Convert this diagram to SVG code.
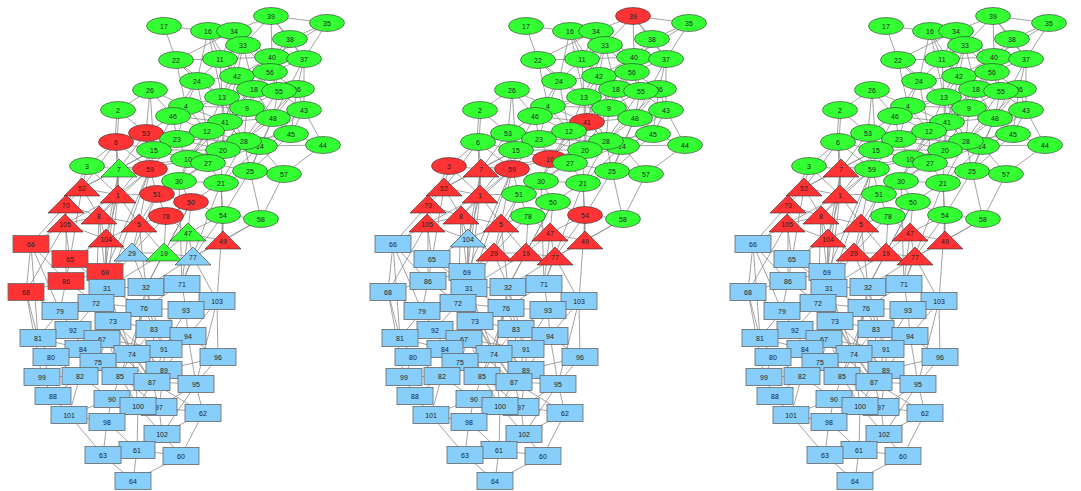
<svg xmlns="http://www.w3.org/2000/svg" xmlns:xlink="http://www.w3.org/1999/xlink" width="1081" height="491" viewBox="0 0 1081 491">
<style>
.ed path{stroke:#8c8c8c;stroke-width:.8;fill:none}
.g{fill:#33ff33}.r{fill:#ff3333}.b{fill:#87cefa}
#E{stroke:#333;stroke-width:.6}
#T{stroke:#333;stroke-width:.6}
#R{stroke:#666;stroke-width:.8}
text{font-family:"Liberation Sans",Arial,sans-serif;font-size:7px;fill:#222;text-anchor:middle}
</style>
<defs>
<ellipse id="E" cx="0" cy="0" rx="17.5" ry="8.5"/>
<polygon id="T" points="0,-10 18,8 -18,8"/>
<rect id="R" x="-18" y="-8.5" width="36" height="17"/>
<g id="edges" class="ed">
<path d="M164 26L176 60"/><path d="M164 26L208 31"/><path d="M271 16L327 23"/><path d="M271 16L234 31"/><path d="M271 16L243 45"/><path d="M271 16L290 39"/><path d="M271 16L272 57"/><path d="M271 16L304 59"/><path d="M327 23L290 39"/><path d="M327 23L304 59"/><path d="M327 23L272 57"/>
<path d="M208 31L220 59"/><path d="M208 31L243 45"/><path d="M208 31L197 81"/><path d="M208 31L237 76"/><path d="M208 31L222 97"/><path d="M234 31L243 45"/><path d="M234 31L220 59"/><path d="M234 31L272 57"/>
<path d="M243 45L220 59"/><path d="M243 45L272 57"/><path d="M243 45L237 76"/><path d="M243 45L270 72"/><path d="M243 45L254 89"/><path d="M243 45L222 97"/><path d="M290 39L272 57"/><path d="M290 39L304 59"/><path d="M290 39L270 72"/>
<path d="M176 60L197 81"/><path d="M176 60L220 59"/><path d="M176 60L222 97"/><path d="M176 60L186 106"/><path d="M176 60L234 31"/>
<path d="M220 59L197 81"/><path d="M220 59L237 76"/><path d="M220 59L222 97"/><path d="M220 59L254 89"/><path d="M220 59L272 57"/>
<path d="M272 57L270 72"/><path d="M272 57L304 59"/><path d="M272 57L237 76"/><path d="M272 57L278 91"/><path d="M272 57L254 89"/>
<path d="M304 59L270 72"/><path d="M304 59L297 89"/><path d="M304 59L304 110"/><path d="M304 59L273 118"/>
<path d="M197 81L222 97"/><path d="M197 81L186 106"/><path d="M197 81L237 76"/><path d="M197 81L173 116"/><path d="M197 81L207 131"/>
<path d="M237 76L270 72"/><path d="M237 76L254 89"/><path d="M237 76L222 97"/><path d="M237 76L247 108"/><path d="M237 76L278 91"/>
<path d="M270 72L254 89"/><path d="M270 72L278 91"/><path d="M270 72L297 89"/><path d="M270 72L247 108"/>
<path d="M254 89L278 91"/><path d="M254 89L222 97"/><path d="M254 89L247 108"/><path d="M254 89L273 118"/><path d="M254 89L225 122"/>
<path d="M278 91L297 89"/><path d="M278 91L247 108"/><path d="M278 91L273 118"/><path d="M278 91L304 110"/>
<path d="M297 89L304 110"/><path d="M297 89L273 118"/><path d="M297 89L291 134"/>
<path d="M150 90L118 110"/><path d="M150 90L186 106"/><path d="M150 90L173 116"/><path d="M150 90L146 133"/><path d="M150 90L154 150"/>
<path d="M117 110L115 142"/><path d="M119 110L117 142"/><path d="M118 110L146 133"/>
<path d="M186 106L173 116"/><path d="M186 106L222 97"/><path d="M186 106L207 131"/><path d="M186 106L225 122"/><path d="M186 106L177 139"/>
<path d="M222 97L247 108"/><path d="M222 97L225 122"/><path d="M222 97L207 131"/><path d="M222 97L173 116"/><path d="M222 97L244 141"/>
<path d="M247 108L273 118"/><path d="M247 108L225 122"/><path d="M247 108L244 141"/><path d="M247 108L207 131"/><path d="M247 108L223 150"/>
<path d="M304 110L273 118"/><path d="M304 110L291 134"/><path d="M304 110L323 145"/>
<path d="M273 118L291 134"/><path d="M273 118L244 141"/><path d="M273 118L260 146"/><path d="M273 118L225 122"/>
<path d="M173 116L207 131"/><path d="M173 116L177 139"/><path d="M173 116L146 133"/><path d="M173 116L154 150"/>
<path d="M225 122L207 131"/><path d="M225 122L244 141"/><path d="M225 122L223 150"/><path d="M225 122L177 139"/>
<path d="M207 131L177 139"/><path d="M207 131L223 150"/><path d="M207 131L244 141"/><path d="M207 131L188 159"/><path d="M207 131L208 163"/>
<path d="M291 134L323 145"/><path d="M291 134L260 146"/><path d="M291 134L244 141"/><path d="M323 145L284 174"/><path d="M323 145L260 146"/>
<path d="M146 133L116 142"/><path d="M146 133L154 150"/><path d="M146 133L177 139"/><path d="M146 133L119 169"/><path d="M146 133L150 169"/>
<path d="M177 139L154 150"/><path d="M177 139L188 159"/><path d="M177 139L223 150"/>
<path d="M244 141L260 146"/><path d="M244 141L223 150"/><path d="M244 141L208 163"/><path d="M244 141L250 171"/>
<path d="M260 146L250 171"/><path d="M260 146L223 150"/><path d="M260 146L284 174"/>
<path d="M116 142L154 150"/><path d="M116 142L87 166"/><path d="M116 142L119 169"/><path d="M116 142L118 195"/><path d="M116 142L82 188"/><path d="M116 142L150 169"/>
<path d="M154 150L188 159"/><path d="M154 150L150 169"/><path d="M154 150L119 169"/>
<path d="M223 150L188 159"/><path d="M223 150L208 163"/><path d="M223 150L221 183"/><path d="M223 150L179 181"/>
<path d="M188 159L208 163"/><path d="M188 159L179 181"/><path d="M188 159L150 169"/>
<path d="M208 163L221 183"/><path d="M208 163L250 171"/><path d="M208 163L179 181"/>
<path d="M87 166L119 169"/><path d="M87 166L82 188"/><path d="M87 166L66 205"/>
<path d="M150 169L119 169"/><path d="M150 169L118 195"/><path d="M150 169L157 194"/><path d="M150 169L179 181"/>
<path d="M250 171L284 174"/><path d="M250 171L221 183"/><path d="M250 171L261 219"/><path d="M250 171L223 215"/><path d="M284 174L261 219"/>
<path d="M179 181L221 183"/><path d="M179 181L157 194"/><path d="M179 181L191 202"/>
<path d="M221 183L223 215"/><path d="M221 183L191 202"/><path d="M221 183L223 241"/>
<path d="M157 194L191 202"/><path d="M157 194L166 216"/><path d="M157 194L118 195"/><path d="M157 194L139 224"/>
<path d="M191 202L166 216"/><path d="M191 202L223 215"/><path d="M191 202L188 233"/><path d="M191 202L164 253"/>
<path d="M166 216L139 224"/><path d="M166 216L188 233"/><path d="M166 216L164 253"/>
<path d="M223 215L261 219"/><path d="M223 215L223 241"/><path d="M223 215L188 233"/><path d="M223 215L193 257"/>
<path d="M261 219L223 241"/><path d="M261 219L193 257"/>
<path d="M119 169L118 195"/><path d="M119 169L82 188"/><path d="M82 188L66 205"/><path d="M82 188L118 195"/><path d="M82 188L99 216"/>
<path d="M118 195L99 216"/><path d="M118 195L139 224"/><path d="M66 205L65 224"/><path d="M66 205L99 216"/><path d="M66 205L31 244"/>
<path d="M99 216L65 224"/><path d="M99 216L106 239"/><path d="M99 216L139 224"/><path d="M65 224L31 244"/><path d="M65 224L70 259"/><path d="M65 224L106 239"/>
<path d="M139 224L106 239"/><path d="M139 224L132 253"/><path d="M139 224L164 253"/><path d="M106 239L70 259"/><path d="M106 239L105 272"/><path d="M106 239L132 253"/>
<path d="M188 233L164 253"/><path d="M188 233L193 257"/><path d="M188 233L223 241"/><path d="M223 241L193 257"/>
<path d="M132 253L164 253"/><path d="M132 253L105 272"/><path d="M132 253L107 288"/><path d="M132 253L146 287"/><path d="M164 253L193 257"/><path d="M164 253L146 287"/>
<path d="M193 257L182 284"/><path d="M193 257L217 301"/><path d="M193 257L146 287"/>
<path d="M31 244L26 292"/><path d="M31 244L66 281"/><path d="M31 244L70 259"/><path d="M70 259L66 281"/><path d="M70 259L105 272"/><path d="M70 259L107 288"/>
<path d="M105 272L107 288"/><path d="M105 272L66 281"/><path d="M66 281L26 292"/><path d="M66 281L96 303"/>
<path d="M26 292L60 311"/><path d="M26 292L38 338"/><path d="M26 292L42 377"/>
<path d="M107 288L146 287"/><path d="M107 288L96 303"/><path d="M107 288L144 308"/><path d="M107 288L113 321"/>
<path d="M146 287L182 284"/><path d="M146 287L144 308"/><path d="M146 287L154 329"/>
<path d="M182 284L217 301"/><path d="M182 284L186 310"/><path d="M182 284L144 308"/>
<path d="M217 301L186 310"/><path d="M217 301L188 336"/><path d="M217 301L218 357"/><path d="M217 301L196 384"/>
<path d="M96 303L60 311"/><path d="M96 303L113 321"/><path d="M96 303L144 308"/><path d="M96 303L73 330"/>
<path d="M144 308L113 321"/><path d="M144 308L154 329"/><path d="M144 308L186 310"/>
<path d="M186 310L154 329"/><path d="M186 310L188 336"/><path d="M186 310L164 349"/>
<path d="M60 311L73 330"/><path d="M60 311L38 338"/>
<path d="M113 321L102 339"/><path d="M113 321L154 329"/><path d="M113 321L132 354"/>
<path d="M73 330L38 338"/><path d="M73 330L102 339"/><path d="M73 330L83 349"/>
<path d="M154 329L164 349"/><path d="M154 329L132 354"/><path d="M38 338L51 357"/><path d="M38 338L83 349"/>
<path d="M102 339L83 349"/><path d="M102 339L98 362"/><path d="M102 339L132 354"/>
<path d="M188 336L164 349"/><path d="M188 336L218 357"/><path d="M188 336L196 384"/><path d="M188 336L164 370"/>
<path d="M83 349L51 357"/><path d="M83 349L98 362"/><path d="M83 349L80 376"/>
<path d="M164 349L132 354"/><path d="M164 349L164 370"/><path d="M164 349L152 382"/>
<path d="M132 354L98 362"/><path d="M132 354L120 376"/><path d="M132 354L152 382"/>
<path d="M218 357L196 384"/><path d="M218 357L164 370"/><path d="M51 357L42 377"/><path d="M51 357L80 376"/>
<path d="M98 362L80 376"/><path d="M98 362L120 376"/><path d="M42 377L53 396"/><path d="M42 377L80 376"/>
<path d="M80 376L53 396"/><path d="M80 376L112 399"/><path d="M80 376L69 415"/>
<path d="M120 376L152 382"/><path d="M120 376L112 399"/><path d="M120 376L138 406"/>
<path d="M164 370L152 382"/><path d="M164 370L196 384"/><path d="M164 370L159 407"/>
<path d="M152 382L196 384"/><path d="M152 382L138 406"/><path d="M152 382L159 407"/>
<path d="M196 384L203 413"/><path d="M196 384L162 434"/><path d="M53 396L69 415"/>
<path d="M112 399L138 406"/><path d="M112 399L107 422"/><path d="M112 399L69 415"/>
<path d="M138 406L159 407"/><path d="M138 406L107 422"/><path d="M138 406L137 450"/><path d="M138 406L162 434"/>
<path d="M159 407L162 434"/><path d="M159 407L203 413"/><path d="M69 415L107 422"/><path d="M69 415L103 455"/>
<path d="M107 422L103 455"/><path d="M107 422L137 450"/><path d="M203 413L162 434"/><path d="M203 413L181 456"/>
<path d="M162 434L181 456"/><path d="M162 434L137 450"/><path d="M137 450L103 455"/><path d="M137 450L133 481"/><path d="M137 450L181 456"/>
<path d="M103 455L133 481"/><path d="M181 456L133 481"/>
<path d="M150 169L107 288"/><path d="M118 195L107 288"/><path d="M119 169L105 272"/><path d="M99 216L96 303"/><path d="M139 224L146 287"/><path d="M157 194L132 253"/>
<path d="M179 181L182 284"/><path d="M221 183L182 284"/><path d="M223 215L217 301"/><path d="M188 233L182 284"/><path d="M166 216L132 253"/><path d="M191 202L146 287"/><path d="M164 253L107 288"/>
<path d="M107 288L132 354"/><path d="M146 287L132 354"/><path d="M96 303L120 376"/><path d="M113 321L152 382"/><path d="M102 339L164 349"/><path d="M144 308L120 376"/>
<path d="M154 329L152 382"/><path d="M113 321L164 370"/><path d="M102 339L152 382"/><path d="M132 354L138 406"/><path d="M120 376L159 407"/><path d="M112 399L152 382"/>
<path d="M98 362L152 382"/><path d="M83 349L120 376"/><path d="M113 321L98 362"/><path d="M144 308L132 354"/><path d="M146 287L164 349"/>
<path d="M116 142L207 131"/><path d="M146 133L207 131"/><path d="M150 169L177 139"/><path d="M118 195L154 150"/><path d="M119 169L188 159"/><path d="M82 188L154 150"/>
<path d="M99 216L150 169"/><path d="M65 224L118 195"/><path d="M106 239L118 195"/><path d="M139 224L150 169"/><path d="M106 239L119 169"/><path d="M87 166L118 195"/>
<path d="M173 116L225 122"/><path d="M186 106L247 108"/><path d="M177 139L244 141"/><path d="M154 150L207 131"/><path d="M188 159L244 141"/><path d="M208 163L260 146"/>
<path d="M222 97L223 150"/><path d="M225 122L208 163"/><path d="M154 150L223 150"/><path d="M188 159L225 122"/><path d="M179 181L207 131"/><path d="M221 183L244 141"/>
<path d="M221 183L260 146"/><path d="M250 171L273 118"/><path d="M291 134L250 171"/><path d="M222 97L273 118"/><path d="M237 76L225 122"/><path d="M254 89L207 131"/>
<path d="M278 91L244 141"/><path d="M297 89L244 141"/><path d="M304 110L260 146"/>
<path d="M31 244L60 311"/><path d="M66 281L60 311"/><path d="M31 244L38 338"/><path d="M150 169L105 272"/>
<path d="M82 188L70 259"/><path d="M66 205L66 281"/><path d="M65 224L26 292"/><path d="M99 216L105 272"/><path d="M106 239L107 288"/>
<path d="M152 382L203 413"/><path d="M159 407L196 384"/>
</g>
</defs>
<rect width="1081" height="491" fill="#fff"/>

<g id="panel1">
<g id="connectors1"><use href="#edges"/></g>
<g id="a17" transform="translate(164 26)"><use href="#E" class="g"/><text y="2.5">17</text></g>
<g id="a39" transform="translate(271 16)"><use href="#E" class="g"/><text y="2.5">39</text></g>
<g id="a35" transform="translate(327 23)"><use href="#E" class="g"/><text y="2.5">35</text></g>
<g id="a16" transform="translate(208 31)"><use href="#E" class="g"/><text y="2.5">16</text></g>
<g id="a34" transform="translate(234 31)"><use href="#E" class="g"/><text y="2.5">34</text></g>
<g id="a33" transform="translate(243 45)"><use href="#E" class="g"/><text y="2.5">33</text></g>
<g id="a38" transform="translate(290 39)"><use href="#E" class="g"/><text y="2.5">38</text></g>
<g id="a22" transform="translate(176 60)"><use href="#E" class="g"/><text y="2.5">22</text></g>
<g id="a11" transform="translate(220 59)"><use href="#E" class="g"/><text y="2.5">11</text></g>
<g id="a40" transform="translate(272 57)"><use href="#E" class="g"/><text y="2.5">40</text></g>
<g id="a37" transform="translate(304 59)"><use href="#E" class="g"/><text y="2.5">37</text></g>
<g id="a24" transform="translate(197 81)"><use href="#E" class="g"/><text y="2.5">24</text></g>
<g id="a42" transform="translate(237 76)"><use href="#E" class="g"/><text y="2.5">42</text></g>
<g id="a56" transform="translate(270 72)"><use href="#E" class="g"/><text y="2.5">56</text></g>
<g id="a18" transform="translate(254 89)"><use href="#E" class="g"/><text y="2.5">18</text></g>
<g id="a36" transform="translate(297 89)"><use href="#E" class="g"/><text y="2.5">36</text></g>
<g id="a55" transform="translate(279 91)"><use href="#E" class="g"/><text y="2.5">55</text></g>
<g id="a26" transform="translate(150 90)"><use href="#E" class="g"/><text y="2.5">26</text></g>
<g id="a13" transform="translate(222 97)"><use href="#E" class="g"/><text y="2.5">13</text></g>
<g id="a4" transform="translate(186 106)"><use href="#E" class="g"/><text y="2.5">4</text></g>
<g id="a9" transform="translate(247 108)"><use href="#E" class="g"/><text y="2.5">9</text></g>
<g id="a43" transform="translate(304 110)"><use href="#E" class="g"/><text y="2.5">43</text></g>
<g id="a2" transform="translate(118 110)"><use href="#E" class="g"/><text y="2.5">2</text></g>
<g id="a46" transform="translate(173 116)"><use href="#E" class="g"/><text y="2.5">46</text></g>
<g id="a48" transform="translate(273 118)"><use href="#E" class="g"/><text y="2.5">48</text></g>
<g id="a41" transform="translate(225 122)"><use href="#E" class="g"/><text y="2.5">41</text></g>
<g id="a12" transform="translate(207 131)"><use href="#E" class="g"/><text y="2.5">12</text></g>
<g id="a45" transform="translate(291 134)"><use href="#E" class="g"/><text y="2.5">45</text></g>
<g id="a53" transform="translate(146 133)"><use href="#E" class="r"/><text y="2.5">53</text></g>
<g id="a23" transform="translate(177 139)"><use href="#E" class="g"/><text y="2.5">23</text></g>
<g id="a14" transform="translate(260 146)"><use href="#E" class="g"/><text y="2.5">14</text></g>
<g id="a28" transform="translate(244 141)"><use href="#E" class="g"/><text y="2.5">28</text></g>
<g id="a44" transform="translate(323 145)"><use href="#E" class="g"/><text y="2.5">44</text></g>
<g id="a6" transform="translate(116 142)"><use href="#E" class="r"/><text y="2.5">6</text></g>
<g id="a15" transform="translate(154 150)"><use href="#E" class="g"/><text y="2.5">15</text></g>
<g id="a20" transform="translate(223 150)"><use href="#E" class="g"/><text y="2.5">20</text></g>
<g id="a10" transform="translate(188 159)"><use href="#E" class="g"/><text y="2.5">10</text></g>
<g id="a27" transform="translate(208 163)"><use href="#E" class="g"/><text y="2.5">27</text></g>
<g id="a3" transform="translate(87 166)"><use href="#E" class="g"/><text y="2.5">3</text></g>
<g id="a59" transform="translate(150 169)"><use href="#E" class="r"/><text y="2.5">59</text></g>
<g id="a25" transform="translate(250 171)"><use href="#E" class="g"/><text y="2.5">25</text></g>
<g id="a57" transform="translate(284 174)"><use href="#E" class="g"/><text y="2.5">57</text></g>
<g id="a30" transform="translate(179 181)"><use href="#E" class="g"/><text y="2.5">30</text></g>
<g id="a21" transform="translate(221 183)"><use href="#E" class="g"/><text y="2.5">21</text></g>
<g id="a51" transform="translate(157 194)"><use href="#E" class="r"/><text y="2.5">51</text></g>
<g id="a50" transform="translate(191 202)"><use href="#E" class="r"/><text y="2.5">50</text></g>
<g id="a78" transform="translate(166 216)"><use href="#E" class="r"/><text y="2.5">78</text></g>
<g id="a54" transform="translate(223 215)"><use href="#E" class="g"/><text y="2.5">54</text></g>
<g id="a58" transform="translate(261 219)"><use href="#E" class="g"/><text y="2.5">58</text></g>
<g id="a7" transform="translate(119 169)"><use href="#T" class="g"/><text y="2.5">7</text></g>
<g id="a52" transform="translate(82 188)"><use href="#T" class="r"/><text y="2.5">52</text></g>
<g id="a1" transform="translate(118 195)"><use href="#T" class="r"/><text y="2.5">1</text></g>
<g id="a70" transform="translate(66 205)"><use href="#T" class="r"/><text y="2.5">70</text></g>
<g id="a8" transform="translate(99 216)"><use href="#T" class="r"/><text y="2.5">8</text></g>
<g id="a105" transform="translate(65 224)"><use href="#T" class="r"/><text y="2.5">105</text></g>
<g id="a5" transform="translate(139 224)"><use href="#T" class="r"/><text y="2.5">5</text></g>
<g id="a104" transform="translate(106 239)"><use href="#T" class="r"/><text y="2.5">104</text></g>
<g id="a47" transform="translate(188 233)"><use href="#T" class="g"/><text y="2.5">47</text></g>
<g id="a49" transform="translate(223 241)"><use href="#T" class="r"/><text y="2.5">49</text></g>
<g id="a29" transform="translate(132 253)"><use href="#T" class="b"/><text y="2.5">29</text></g>
<g id="a19" transform="translate(164 253)"><use href="#T" class="g"/><text y="2.5">19</text></g>
<g id="a77" transform="translate(193 257)"><use href="#T" class="b"/><text y="2.5">77</text></g>
<g id="a66" transform="translate(31 244)"><use href="#R" class="r"/><text y="2.5">66</text></g>
<g id="a65" transform="translate(70 259)"><use href="#R" class="r"/><text y="2.5">65</text></g>
<g id="a69" transform="translate(105 272)"><use href="#R" class="r"/><text y="2.5">69</text></g>
<g id="a86" transform="translate(66 281)"><use href="#R" class="r"/><text y="2.5">86</text></g>
<g id="a68" transform="translate(26 292)"><use href="#R" class="r"/><text y="2.5">68</text></g>
<g id="a31" transform="translate(107 288)"><use href="#R" class="b"/><text y="2.5">31</text></g>
<g id="a32" transform="translate(146 287)"><use href="#R" class="b"/><text y="2.5">32</text></g>
<g id="a71" transform="translate(182 284)"><use href="#R" class="b"/><text y="2.5">71</text></g>
<g id="a103" transform="translate(217 301)"><use href="#R" class="b"/><text y="2.5">103</text></g>
<g id="a72" transform="translate(96 303)"><use href="#R" class="b"/><text y="2.5">72</text></g>
<g id="a76" transform="translate(144 308)"><use href="#R" class="b"/><text y="2.5">76</text></g>
<g id="a93" transform="translate(186 310)"><use href="#R" class="b"/><text y="2.5">93</text></g>
<g id="a79" transform="translate(60 311)"><use href="#R" class="b"/><text y="2.5">79</text></g>
<g id="a73" transform="translate(113 321)"><use href="#R" class="b"/><text y="2.5">73</text></g>
<g id="a92" transform="translate(73 330)"><use href="#R" class="b"/><text y="2.5">92</text></g>
<g id="a83" transform="translate(154 329)"><use href="#R" class="b"/><text y="2.5">83</text></g>
<g id="a81" transform="translate(38 338)"><use href="#R" class="b"/><text y="2.5">81</text></g>
<g id="a67" transform="translate(102 339)"><use href="#R" class="b"/><text y="2.5">67</text></g>
<g id="a94" transform="translate(188 336)"><use href="#R" class="b"/><text y="2.5">94</text></g>
<g id="a84" transform="translate(83 349)"><use href="#R" class="b"/><text y="2.5">84</text></g>
<g id="a91" transform="translate(164 349)"><use href="#R" class="b"/><text y="2.5">91</text></g>
<g id="a74" transform="translate(132 354)"><use href="#R" class="b"/><text y="2.5">74</text></g>
<g id="a96" transform="translate(218 357)"><use href="#R" class="b"/><text y="2.5">96</text></g>
<g id="a80" transform="translate(51 357)"><use href="#R" class="b"/><text y="2.5">80</text></g>
<g id="a75" transform="translate(98 362)"><use href="#R" class="b"/><text y="2.5">75</text></g>
<g id="a99" transform="translate(42 377)"><use href="#R" class="b"/><text y="2.5">99</text></g>
<g id="a82" transform="translate(80 376)"><use href="#R" class="b"/><text y="2.5">82</text></g>
<g id="a89" transform="translate(164 370)"><use href="#R" class="b"/><text y="2.5">89</text></g>
<g id="a85" transform="translate(120 376)"><use href="#R" class="b"/><text y="2.5">85</text></g>
<g id="a87" transform="translate(152 382)"><use href="#R" class="b"/><text y="2.5">87</text></g>
<g id="a95" transform="translate(196 384)"><use href="#R" class="b"/><text y="2.5">95</text></g>
<g id="a88" transform="translate(53 396)"><use href="#R" class="b"/><text y="2.5">88</text></g>
<g id="a90" transform="translate(112 399)"><use href="#R" class="b"/><text y="2.5">90</text></g>
<g id="a97" transform="translate(159 407)"><use href="#R" class="b"/><text y="2.5">97</text></g>
<g id="a100" transform="translate(138 406)"><use href="#R" class="b"/><text y="2.5">100</text></g>
<g id="a101" transform="translate(69 415)"><use href="#R" class="b"/><text y="2.5">101</text></g>
<g id="a98" transform="translate(107 422)"><use href="#R" class="b"/><text y="2.5">98</text></g>
<g id="a62" transform="translate(203 413)"><use href="#R" class="b"/><text y="2.5">62</text></g>
<g id="a102" transform="translate(162 434)"><use href="#R" class="b"/><text y="2.5">102</text></g>
<g id="a61" transform="translate(137 450)"><use href="#R" class="b"/><text y="2.5">61</text></g>
<g id="a63" transform="translate(103 455)"><use href="#R" class="b"/><text y="2.5">63</text></g>
<g id="a60" transform="translate(181 456)"><use href="#R" class="b"/><text y="2.5">60</text></g>
<g id="a64" transform="translate(133 481)"><use href="#R" class="b"/><text y="2.5">64</text></g>
</g>

<g id="panel2" transform="translate(362 0)">
<g id="connectors2"><use href="#edges"/></g>
<g id="b17" transform="translate(164 26)"><use href="#E" class="g"/><text y="2.5">17</text></g>
<g id="b39" transform="translate(271 16)"><use href="#E" class="r"/><text y="2.5">39</text></g>
<g id="b35" transform="translate(327 23)"><use href="#E" class="g"/><text y="2.5">35</text></g>
<g id="b16" transform="translate(208 31)"><use href="#E" class="g"/><text y="2.5">16</text></g>
<g id="b34" transform="translate(234 31)"><use href="#E" class="g"/><text y="2.5">34</text></g>
<g id="b33" transform="translate(243 45)"><use href="#E" class="g"/><text y="2.5">33</text></g>
<g id="b38" transform="translate(290 39)"><use href="#E" class="g"/><text y="2.5">38</text></g>
<g id="b22" transform="translate(176 60)"><use href="#E" class="g"/><text y="2.5">22</text></g>
<g id="b11" transform="translate(220 59)"><use href="#E" class="g"/><text y="2.5">11</text></g>
<g id="b40" transform="translate(272 57)"><use href="#E" class="g"/><text y="2.5">40</text></g>
<g id="b37" transform="translate(304 59)"><use href="#E" class="g"/><text y="2.5">37</text></g>
<g id="b24" transform="translate(197 81)"><use href="#E" class="g"/><text y="2.5">24</text></g>
<g id="b42" transform="translate(237 76)"><use href="#E" class="g"/><text y="2.5">42</text></g>
<g id="b56" transform="translate(270 72)"><use href="#E" class="g"/><text y="2.5">56</text></g>
<g id="b18" transform="translate(254 89)"><use href="#E" class="g"/><text y="2.5">18</text></g>
<g id="b36" transform="translate(297 89)"><use href="#E" class="g"/><text y="2.5">36</text></g>
<g id="b55" transform="translate(279 91)"><use href="#E" class="g"/><text y="2.5">55</text></g>
<g id="b26" transform="translate(150 90)"><use href="#E" class="g"/><text y="2.5">26</text></g>
<g id="b13" transform="translate(222 97)"><use href="#E" class="g"/><text y="2.5">13</text></g>
<g id="b4" transform="translate(186 106)"><use href="#E" class="g"/><text y="2.5">4</text></g>
<g id="b9" transform="translate(247 108)"><use href="#E" class="g"/><text y="2.5">9</text></g>
<g id="b43" transform="translate(304 110)"><use href="#E" class="g"/><text y="2.5">43</text></g>
<g id="b2" transform="translate(118 110)"><use href="#E" class="g"/><text y="2.5">2</text></g>
<g id="b46" transform="translate(173 116)"><use href="#E" class="g"/><text y="2.5">46</text></g>
<g id="b48" transform="translate(273 118)"><use href="#E" class="g"/><text y="2.5">48</text></g>
<g id="b41" transform="translate(225 122)"><use href="#E" class="r"/><text y="2.5">41</text></g>
<g id="b12" transform="translate(207 131)"><use href="#E" class="g"/><text y="2.5">12</text></g>
<g id="b45" transform="translate(291 134)"><use href="#E" class="g"/><text y="2.5">45</text></g>
<g id="b53" transform="translate(146 133)"><use href="#E" class="g"/><text y="2.5">53</text></g>
<g id="b23" transform="translate(177 139)"><use href="#E" class="g"/><text y="2.5">23</text></g>
<g id="b14" transform="translate(260 146)"><use href="#E" class="g"/><text y="2.5">14</text></g>
<g id="b28" transform="translate(244 141)"><use href="#E" class="g"/><text y="2.5">28</text></g>
<g id="b44" transform="translate(323 145)"><use href="#E" class="g"/><text y="2.5">44</text></g>
<g id="b6" transform="translate(116 142)"><use href="#E" class="g"/><text y="2.5">6</text></g>
<g id="b15" transform="translate(154 150)"><use href="#E" class="g"/><text y="2.5">15</text></g>
<g id="b20" transform="translate(223 150)"><use href="#E" class="g"/><text y="2.5">20</text></g>
<g id="b10" transform="translate(188 159)"><use href="#E" class="r"/><text y="2.5">10</text></g>
<g id="b27" transform="translate(208 163)"><use href="#E" class="g"/><text y="2.5">27</text></g>
<g id="b3" transform="translate(87 166)"><use href="#E" class="r"/><text y="2.5">3</text></g>
<g id="b59" transform="translate(150 169)"><use href="#E" class="r"/><text y="2.5">59</text></g>
<g id="b25" transform="translate(250 171)"><use href="#E" class="g"/><text y="2.5">25</text></g>
<g id="b57" transform="translate(284 174)"><use href="#E" class="g"/><text y="2.5">57</text></g>
<g id="b30" transform="translate(179 181)"><use href="#E" class="g"/><text y="2.5">30</text></g>
<g id="b21" transform="translate(221 183)"><use href="#E" class="g"/><text y="2.5">21</text></g>
<g id="b51" transform="translate(157 194)"><use href="#E" class="g"/><text y="2.5">51</text></g>
<g id="b50" transform="translate(191 202)"><use href="#E" class="g"/><text y="2.5">50</text></g>
<g id="b78" transform="translate(166 216)"><use href="#E" class="g"/><text y="2.5">78</text></g>
<g id="b54" transform="translate(223 215)"><use href="#E" class="r"/><text y="2.5">54</text></g>
<g id="b58" transform="translate(261 219)"><use href="#E" class="g"/><text y="2.5">58</text></g>
<g id="b7" transform="translate(119 169)"><use href="#T" class="r"/><text y="2.5">7</text></g>
<g id="b52" transform="translate(82 188)"><use href="#T" class="r"/><text y="2.5">52</text></g>
<g id="b1" transform="translate(118 195)"><use href="#T" class="r"/><text y="2.5">1</text></g>
<g id="b70" transform="translate(66 205)"><use href="#T" class="r"/><text y="2.5">70</text></g>
<g id="b8" transform="translate(99 216)"><use href="#T" class="r"/><text y="2.5">8</text></g>
<g id="b105" transform="translate(65 224)"><use href="#T" class="r"/><text y="2.5">105</text></g>
<g id="b5" transform="translate(139 224)"><use href="#T" class="r"/><text y="2.5">5</text></g>
<g id="b104" transform="translate(106 239)"><use href="#T" class="b"/><text y="2.5">104</text></g>
<g id="b47" transform="translate(188 233)"><use href="#T" class="r"/><text y="2.5">47</text></g>
<g id="b49" transform="translate(223 241)"><use href="#T" class="r"/><text y="2.5">49</text></g>
<g id="b29" transform="translate(132 253)"><use href="#T" class="r"/><text y="2.5">29</text></g>
<g id="b19" transform="translate(164 253)"><use href="#T" class="r"/><text y="2.5">19</text></g>
<g id="b77" transform="translate(193 257)"><use href="#T" class="r"/><text y="2.5">77</text></g>
<g id="b66" transform="translate(31 244)"><use href="#R" class="b"/><text y="2.5">66</text></g>
<g id="b65" transform="translate(70 259)"><use href="#R" class="b"/><text y="2.5">65</text></g>
<g id="b69" transform="translate(105 272)"><use href="#R" class="b"/><text y="2.5">69</text></g>
<g id="b86" transform="translate(66 281)"><use href="#R" class="b"/><text y="2.5">86</text></g>
<g id="b68" transform="translate(26 292)"><use href="#R" class="b"/><text y="2.5">68</text></g>
<g id="b31" transform="translate(107 288)"><use href="#R" class="b"/><text y="2.5">31</text></g>
<g id="b32" transform="translate(146 287)"><use href="#R" class="b"/><text y="2.5">32</text></g>
<g id="b71" transform="translate(182 284)"><use href="#R" class="b"/><text y="2.5">71</text></g>
<g id="b103" transform="translate(217 301)"><use href="#R" class="b"/><text y="2.5">103</text></g>
<g id="b72" transform="translate(96 303)"><use href="#R" class="b"/><text y="2.5">72</text></g>
<g id="b76" transform="translate(144 308)"><use href="#R" class="b"/><text y="2.5">76</text></g>
<g id="b93" transform="translate(186 310)"><use href="#R" class="b"/><text y="2.5">93</text></g>
<g id="b79" transform="translate(60 311)"><use href="#R" class="b"/><text y="2.5">79</text></g>
<g id="b73" transform="translate(113 321)"><use href="#R" class="b"/><text y="2.5">73</text></g>
<g id="b92" transform="translate(73 330)"><use href="#R" class="b"/><text y="2.5">92</text></g>
<g id="b83" transform="translate(154 329)"><use href="#R" class="b"/><text y="2.5">83</text></g>
<g id="b81" transform="translate(38 338)"><use href="#R" class="b"/><text y="2.5">81</text></g>
<g id="b67" transform="translate(102 339)"><use href="#R" class="b"/><text y="2.5">67</text></g>
<g id="b94" transform="translate(188 336)"><use href="#R" class="b"/><text y="2.5">94</text></g>
<g id="b84" transform="translate(83 349)"><use href="#R" class="b"/><text y="2.5">84</text></g>
<g id="b91" transform="translate(164 349)"><use href="#R" class="b"/><text y="2.5">91</text></g>
<g id="b74" transform="translate(132 354)"><use href="#R" class="b"/><text y="2.5">74</text></g>
<g id="b96" transform="translate(218 357)"><use href="#R" class="b"/><text y="2.5">96</text></g>
<g id="b80" transform="translate(51 357)"><use href="#R" class="b"/><text y="2.5">80</text></g>
<g id="b75" transform="translate(98 362)"><use href="#R" class="b"/><text y="2.5">75</text></g>
<g id="b99" transform="translate(42 377)"><use href="#R" class="b"/><text y="2.5">99</text></g>
<g id="b82" transform="translate(80 376)"><use href="#R" class="b"/><text y="2.5">82</text></g>
<g id="b89" transform="translate(164 370)"><use href="#R" class="b"/><text y="2.5">89</text></g>
<g id="b85" transform="translate(120 376)"><use href="#R" class="b"/><text y="2.5">85</text></g>
<g id="b87" transform="translate(152 382)"><use href="#R" class="b"/><text y="2.5">87</text></g>
<g id="b95" transform="translate(196 384)"><use href="#R" class="b"/><text y="2.5">95</text></g>
<g id="b88" transform="translate(53 396)"><use href="#R" class="b"/><text y="2.5">88</text></g>
<g id="b90" transform="translate(112 399)"><use href="#R" class="b"/><text y="2.5">90</text></g>
<g id="b97" transform="translate(159 407)"><use href="#R" class="b"/><text y="2.5">97</text></g>
<g id="b100" transform="translate(138 406)"><use href="#R" class="b"/><text y="2.5">100</text></g>
<g id="b101" transform="translate(69 415)"><use href="#R" class="b"/><text y="2.5">101</text></g>
<g id="b98" transform="translate(107 422)"><use href="#R" class="b"/><text y="2.5">98</text></g>
<g id="b62" transform="translate(203 413)"><use href="#R" class="b"/><text y="2.5">62</text></g>
<g id="b102" transform="translate(162 434)"><use href="#R" class="b"/><text y="2.5">102</text></g>
<g id="b61" transform="translate(137 450)"><use href="#R" class="b"/><text y="2.5">61</text></g>
<g id="b63" transform="translate(103 455)"><use href="#R" class="b"/><text y="2.5">63</text></g>
<g id="b60" transform="translate(181 456)"><use href="#R" class="b"/><text y="2.5">60</text></g>
<g id="b64" transform="translate(133 481)"><use href="#R" class="b"/><text y="2.5">64</text></g>
</g>

<g id="panel3" transform="translate(722 0)">
<g id="connectors3"><use href="#edges"/></g>
<g id="c17" transform="translate(164 26)"><use href="#E" class="g"/><text y="2.5">17</text></g>
<g id="c39" transform="translate(271 16)"><use href="#E" class="g"/><text y="2.5">39</text></g>
<g id="c35" transform="translate(327 23)"><use href="#E" class="g"/><text y="2.5">35</text></g>
<g id="c16" transform="translate(208 31)"><use href="#E" class="g"/><text y="2.5">16</text></g>
<g id="c34" transform="translate(234 31)"><use href="#E" class="g"/><text y="2.5">34</text></g>
<g id="c33" transform="translate(243 45)"><use href="#E" class="g"/><text y="2.5">33</text></g>
<g id="c38" transform="translate(290 39)"><use href="#E" class="g"/><text y="2.5">38</text></g>
<g id="c22" transform="translate(176 60)"><use href="#E" class="g"/><text y="2.5">22</text></g>
<g id="c11" transform="translate(220 59)"><use href="#E" class="g"/><text y="2.5">11</text></g>
<g id="c40" transform="translate(272 57)"><use href="#E" class="g"/><text y="2.5">40</text></g>
<g id="c37" transform="translate(304 59)"><use href="#E" class="g"/><text y="2.5">37</text></g>
<g id="c24" transform="translate(197 81)"><use href="#E" class="g"/><text y="2.5">24</text></g>
<g id="c42" transform="translate(237 76)"><use href="#E" class="g"/><text y="2.5">42</text></g>
<g id="c56" transform="translate(270 72)"><use href="#E" class="g"/><text y="2.5">56</text></g>
<g id="c18" transform="translate(254 89)"><use href="#E" class="g"/><text y="2.5">18</text></g>
<g id="c36" transform="translate(297 89)"><use href="#E" class="g"/><text y="2.5">36</text></g>
<g id="c55" transform="translate(279 91)"><use href="#E" class="g"/><text y="2.5">55</text></g>
<g id="c26" transform="translate(150 90)"><use href="#E" class="g"/><text y="2.5">26</text></g>
<g id="c13" transform="translate(222 97)"><use href="#E" class="g"/><text y="2.5">13</text></g>
<g id="c4" transform="translate(186 106)"><use href="#E" class="g"/><text y="2.5">4</text></g>
<g id="c9" transform="translate(247 108)"><use href="#E" class="g"/><text y="2.5">9</text></g>
<g id="c43" transform="translate(304 110)"><use href="#E" class="g"/><text y="2.5">43</text></g>
<g id="c2" transform="translate(118 110)"><use href="#E" class="g"/><text y="2.5">2</text></g>
<g id="c46" transform="translate(173 116)"><use href="#E" class="g"/><text y="2.5">46</text></g>
<g id="c48" transform="translate(273 118)"><use href="#E" class="g"/><text y="2.5">48</text></g>
<g id="c41" transform="translate(225 122)"><use href="#E" class="g"/><text y="2.5">41</text></g>
<g id="c12" transform="translate(207 131)"><use href="#E" class="g"/><text y="2.5">12</text></g>
<g id="c45" transform="translate(291 134)"><use href="#E" class="g"/><text y="2.5">45</text></g>
<g id="c53" transform="translate(146 133)"><use href="#E" class="g"/><text y="2.5">53</text></g>
<g id="c23" transform="translate(177 139)"><use href="#E" class="g"/><text y="2.5">23</text></g>
<g id="c14" transform="translate(260 146)"><use href="#E" class="g"/><text y="2.5">14</text></g>
<g id="c28" transform="translate(244 141)"><use href="#E" class="g"/><text y="2.5">28</text></g>
<g id="c44" transform="translate(323 145)"><use href="#E" class="g"/><text y="2.5">44</text></g>
<g id="c6" transform="translate(116 142)"><use href="#E" class="g"/><text y="2.5">6</text></g>
<g id="c15" transform="translate(154 150)"><use href="#E" class="g"/><text y="2.5">15</text></g>
<g id="c20" transform="translate(223 150)"><use href="#E" class="g"/><text y="2.5">20</text></g>
<g id="c10" transform="translate(188 159)"><use href="#E" class="g"/><text y="2.5">10</text></g>
<g id="c27" transform="translate(208 163)"><use href="#E" class="g"/><text y="2.5">27</text></g>
<g id="c3" transform="translate(87 166)"><use href="#E" class="g"/><text y="2.5">3</text></g>
<g id="c59" transform="translate(150 169)"><use href="#E" class="g"/><text y="2.5">59</text></g>
<g id="c25" transform="translate(250 171)"><use href="#E" class="g"/><text y="2.5">25</text></g>
<g id="c57" transform="translate(284 174)"><use href="#E" class="g"/><text y="2.5">57</text></g>
<g id="c30" transform="translate(179 181)"><use href="#E" class="g"/><text y="2.5">30</text></g>
<g id="c21" transform="translate(221 183)"><use href="#E" class="g"/><text y="2.5">21</text></g>
<g id="c51" transform="translate(157 194)"><use href="#E" class="g"/><text y="2.5">51</text></g>
<g id="c50" transform="translate(191 202)"><use href="#E" class="g"/><text y="2.5">50</text></g>
<g id="c78" transform="translate(166 216)"><use href="#E" class="g"/><text y="2.5">78</text></g>
<g id="c54" transform="translate(223 215)"><use href="#E" class="g"/><text y="2.5">54</text></g>
<g id="c58" transform="translate(261 219)"><use href="#E" class="g"/><text y="2.5">58</text></g>
<g id="c7" transform="translate(119 169)"><use href="#T" class="r"/><text y="2.5">7</text></g>
<g id="c52" transform="translate(82 188)"><use href="#T" class="r"/><text y="2.5">52</text></g>
<g id="c1" transform="translate(118 195)"><use href="#T" class="r"/><text y="2.5">1</text></g>
<g id="c70" transform="translate(66 205)"><use href="#T" class="r"/><text y="2.5">70</text></g>
<g id="c8" transform="translate(99 216)"><use href="#T" class="r"/><text y="2.5">8</text></g>
<g id="c105" transform="translate(65 224)"><use href="#T" class="r"/><text y="2.5">105</text></g>
<g id="c5" transform="translate(139 224)"><use href="#T" class="r"/><text y="2.5">5</text></g>
<g id="c104" transform="translate(106 239)"><use href="#T" class="r"/><text y="2.5">104</text></g>
<g id="c47" transform="translate(188 233)"><use href="#T" class="r"/><text y="2.5">47</text></g>
<g id="c49" transform="translate(223 241)"><use href="#T" class="r"/><text y="2.5">49</text></g>
<g id="c29" transform="translate(132 253)"><use href="#T" class="r"/><text y="2.5">29</text></g>
<g id="c19" transform="translate(164 253)"><use href="#T" class="r"/><text y="2.5">19</text></g>
<g id="c77" transform="translate(193 257)"><use href="#T" class="r"/><text y="2.5">77</text></g>
<g id="c66" transform="translate(31 244)"><use href="#R" class="b"/><text y="2.5">66</text></g>
<g id="c65" transform="translate(70 259)"><use href="#R" class="b"/><text y="2.5">65</text></g>
<g id="c69" transform="translate(105 272)"><use href="#R" class="b"/><text y="2.5">69</text></g>
<g id="c86" transform="translate(66 281)"><use href="#R" class="b"/><text y="2.5">86</text></g>
<g id="c68" transform="translate(26 292)"><use href="#R" class="b"/><text y="2.5">68</text></g>
<g id="c31" transform="translate(107 288)"><use href="#R" class="b"/><text y="2.5">31</text></g>
<g id="c32" transform="translate(146 287)"><use href="#R" class="b"/><text y="2.5">32</text></g>
<g id="c71" transform="translate(182 284)"><use href="#R" class="b"/><text y="2.5">71</text></g>
<g id="c103" transform="translate(217 301)"><use href="#R" class="b"/><text y="2.5">103</text></g>
<g id="c72" transform="translate(96 303)"><use href="#R" class="b"/><text y="2.5">72</text></g>
<g id="c76" transform="translate(144 308)"><use href="#R" class="b"/><text y="2.5">76</text></g>
<g id="c93" transform="translate(186 310)"><use href="#R" class="b"/><text y="2.5">93</text></g>
<g id="c79" transform="translate(60 311)"><use href="#R" class="b"/><text y="2.5">79</text></g>
<g id="c73" transform="translate(113 321)"><use href="#R" class="b"/><text y="2.5">73</text></g>
<g id="c92" transform="translate(73 330)"><use href="#R" class="b"/><text y="2.5">92</text></g>
<g id="c83" transform="translate(154 329)"><use href="#R" class="b"/><text y="2.5">83</text></g>
<g id="c81" transform="translate(38 338)"><use href="#R" class="b"/><text y="2.5">81</text></g>
<g id="c67" transform="translate(102 339)"><use href="#R" class="b"/><text y="2.5">67</text></g>
<g id="c94" transform="translate(188 336)"><use href="#R" class="b"/><text y="2.5">94</text></g>
<g id="c84" transform="translate(83 349)"><use href="#R" class="b"/><text y="2.5">84</text></g>
<g id="c91" transform="translate(164 349)"><use href="#R" class="b"/><text y="2.5">91</text></g>
<g id="c74" transform="translate(132 354)"><use href="#R" class="b"/><text y="2.5">74</text></g>
<g id="c96" transform="translate(218 357)"><use href="#R" class="b"/><text y="2.5">96</text></g>
<g id="c80" transform="translate(51 357)"><use href="#R" class="b"/><text y="2.5">80</text></g>
<g id="c75" transform="translate(98 362)"><use href="#R" class="b"/><text y="2.5">75</text></g>
<g id="c99" transform="translate(42 377)"><use href="#R" class="b"/><text y="2.5">99</text></g>
<g id="c82" transform="translate(80 376)"><use href="#R" class="b"/><text y="2.5">82</text></g>
<g id="c89" transform="translate(164 370)"><use href="#R" class="b"/><text y="2.5">89</text></g>
<g id="c85" transform="translate(120 376)"><use href="#R" class="b"/><text y="2.5">85</text></g>
<g id="c87" transform="translate(152 382)"><use href="#R" class="b"/><text y="2.5">87</text></g>
<g id="c95" transform="translate(196 384)"><use href="#R" class="b"/><text y="2.5">95</text></g>
<g id="c88" transform="translate(53 396)"><use href="#R" class="b"/><text y="2.5">88</text></g>
<g id="c90" transform="translate(112 399)"><use href="#R" class="b"/><text y="2.5">90</text></g>
<g id="c97" transform="translate(159 407)"><use href="#R" class="b"/><text y="2.5">97</text></g>
<g id="c100" transform="translate(138 406)"><use href="#R" class="b"/><text y="2.5">100</text></g>
<g id="c101" transform="translate(69 415)"><use href="#R" class="b"/><text y="2.5">101</text></g>
<g id="c98" transform="translate(107 422)"><use href="#R" class="b"/><text y="2.5">98</text></g>
<g id="c62" transform="translate(203 413)"><use href="#R" class="b"/><text y="2.5">62</text></g>
<g id="c102" transform="translate(162 434)"><use href="#R" class="b"/><text y="2.5">102</text></g>
<g id="c61" transform="translate(137 450)"><use href="#R" class="b"/><text y="2.5">61</text></g>
<g id="c63" transform="translate(103 455)"><use href="#R" class="b"/><text y="2.5">63</text></g>
<g id="c60" transform="translate(181 456)"><use href="#R" class="b"/><text y="2.5">60</text></g>
<g id="c64" transform="translate(133 481)"><use href="#R" class="b"/><text y="2.5">64</text></g>
</g>
</svg>
